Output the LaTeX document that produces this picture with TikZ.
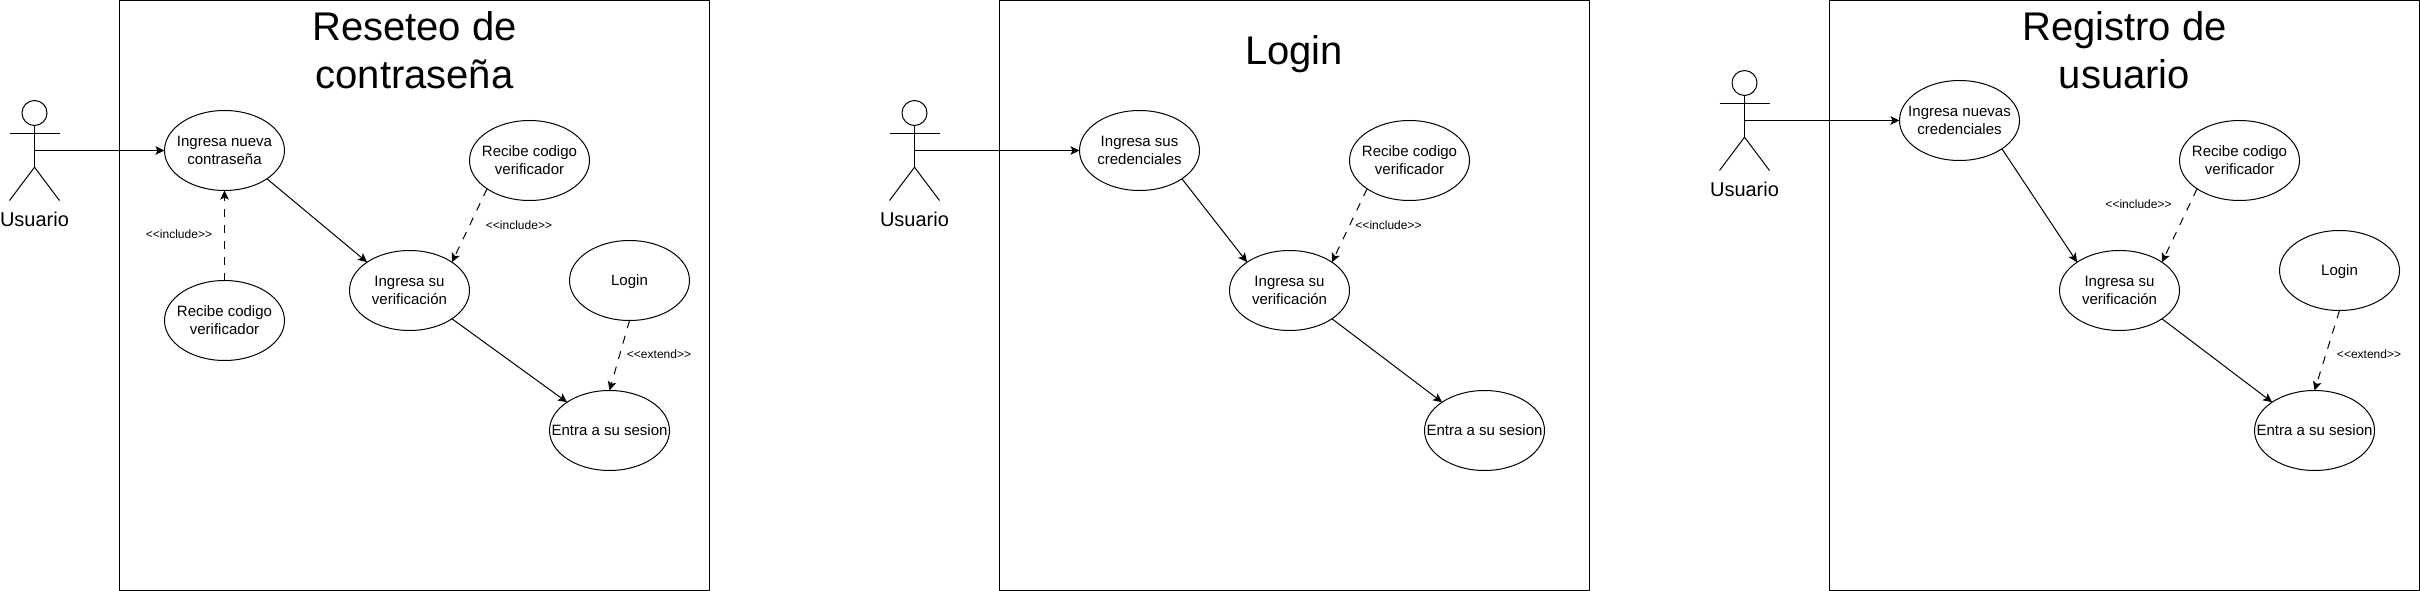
\documentclass[tikz,border=0pt]{standalone}
\usepackage{fontspec}
\setmainfont{Liberation Sans}
\usetikzlibrary{shapes.geometric,arrows.meta}
\newcommand{\etxt}[1]{\makebox[0pt][c]{\smash{\raisebox{-5.45pt}{\begin{tabular}{@{}c@{}}#1\end{tabular}}}}}
\newcommand{\ttxt}[1]{\begin{tabular}[t]{@{}c@{}}#1\end{tabular}}
\tikzset{
  panelbox/.style={draw=black,line width=1pt,minimum width=590pt,minimum height=590pt,inner sep=0pt,outer sep=0pt,anchor=north west},
  usecase/.style={draw=black,fill=white,line width=1pt,ellipse,minimum width=120pt,minimum height=80pt,inner sep=0pt,outer sep=0pt,font=\fontsize{15}{18}\selectfont},
  paneltitle/.style={inner sep=0pt,anchor=base,font=\fontsize{40}{48}\selectfont},
  actorlabel/.style={inner sep=0pt,font=\fontsize{20}{24}\selectfont},
  stereo/.style={inner sep=0pt,font=\fontsize{12}{14}\selectfont},
  flow/.style={draw=black,line width=1pt,-{Stealth[length=9pt,width=8.5pt,inset=2pt]}},
  dep/.style={flow,dash pattern=on 8pt off 8pt},
  actorline/.style={draw=black,line width=1pt}
}
\newcommand{\actor}[3]{% name, cx, top
  \node[draw=black,line width=1pt,ellipse,minimum width=25pt,minimum height=25pt,inner sep=0pt,outer sep=0pt] (#1head) at (#2,#3+12.5) {};
  \coordinate (#1neck) at (#2,#3+25);
  \coordinate (#1mid) at (#2,#3+50);
  \coordinate (#1hip) at (#2,#3+66.7);
  \coordinate (#1la) at (#2-25,#3+33.3);
  \coordinate (#1ra) at (#2+25,#3+33.3);
  \coordinate (#1ll) at (#2-25,#3+100);
  \coordinate (#1rl) at (#2+25,#3+100);
  \draw[actorline] (#1head.south) -- (#1hip);
  \draw[actorline] (#1la) -- (#1ra);
  \draw[actorline] (#1ll) -- (#1hip) -- (#1rl);
}
\begin{document}
\begin{tikzpicture}[x=1pt,y=-1pt]
\useasboundingbox (0,0) rectangle (2420,591);
% ---------- panels
\node[panelbox] (box1) at (119.5,0.5) {};
\node[panelbox] (box2) at (999.5,0.5) {};
\node[panelbox] (box3) at (1829.5,0.5) {};
% ---------- panel 1
\node[paneltitle] (t1) at (414.5,41) {\ttxt{Reseteo de\\contraseña}};
\actor{aa}{34.5}{100.5}
\node[actorlabel] (ua) at (34.5,219) {Usuario};
\node[usecase] (a1) at (224.5,150.5) {\etxt{Ingresa nueva\\contraseña}};
\node[usecase] (a2) at (224.5,320.5) {\etxt{Recibe codigo\\verificador}};
\node[usecase] (a3) at (409.5,290.5) {\etxt{Ingresa su\\verificación}};
\node[usecase] (a4) at (529.5,160.5) {\etxt{Recibe codigo\\verificador}};
\node[usecase] (a5) at (629.5,280.5) {\etxt{Login}};
\node[usecase] (a6) at (609.5,430.5) {\etxt{Entra a su sesion}};
\draw[flow] (aamid) -- (a1.west);
\draw[dep] (a2.north) -- (a1.south);
\draw[flow] (a1.south east) -- (a3.north west);
\draw[dep] (a4.south west) -- (a3.north east);
\draw[flow] (a3.south east) -- (a6.north west);
\draw[dep] (a5.south) -- (a6.north);
\node[stereo] (la1) at (179,234.5) {<{}<include>{}>};
\node[stereo] (la2) at (519,225) {<{}<include>{}>};
\node[stereo] (la3) at (659,354.5) {<{}<extend>{}>};
% ---------- panel 2
\node[paneltitle] (t2) at (1294,65) {Login};
\actor{bb}{914.5}{100.5}
\node[actorlabel] (ub) at (914.5,219) {Usuario};
\node[usecase] (b1) at (1139.5,150.5) {\etxt{Ingresa sus\\credenciales}};
\node[usecase] (b3) at (1289.5,290.5) {\etxt{Ingresa su\\verificación}};
\node[usecase] (b4) at (1409.5,160.5) {\etxt{Recibe codigo\\verificador}};
\node[usecase] (b6) at (1484.5,430.5) {\etxt{Entra a su sesion}};
\draw[flow] (bbmid) -- (b1.west);
\draw[flow] (b1.south east) -- (b3.north west);
\draw[dep] (b4.south west) -- (b3.north east);
\draw[flow] (b3.south east) -- (b6.north west);
\node[stereo] (lb2) at (1388.5,225) {<{}<include>{}>};
% ---------- panel 3
\node[paneltitle] (t3) at (2124.5,41) {\ttxt{Registro de\\usuario}};
\actor{cc}{1744.5}{70.5}
\node[actorlabel] (uc) at (1744.5,189) {Usuario};
\node[usecase] (c1) at (1959.5,120.5) {\etxt{Ingresa nuevas\\credenciales}};
\node[usecase] (c3) at (2119.5,290.5) {\etxt{Ingresa su\\verificación}};
\node[usecase] (c4) at (2239.5,160.5) {\etxt{Recibe codigo\\verificador}};
\node[usecase] (c5) at (2339.5,270.5) {\etxt{Login}};
\node[usecase] (c6) at (2314.5,430.5) {\etxt{Entra a su sesion}};
\draw[flow] (ccmid) -- (c1.west);
\draw[flow] (c1.south east) -- (c3.north west);
\draw[dep] (c4.south west) -- (c3.north east);
\draw[flow] (c3.south east) -- (c6.north west);
\draw[dep] (c5.south) -- (c6.north);
\node[stereo] (lc2) at (2138.5,204.7) {<{}<include>{}>};
\node[stereo] (lc3) at (2369,354.5) {<{}<extend>{}>};
\end{tikzpicture}
\end{document}
